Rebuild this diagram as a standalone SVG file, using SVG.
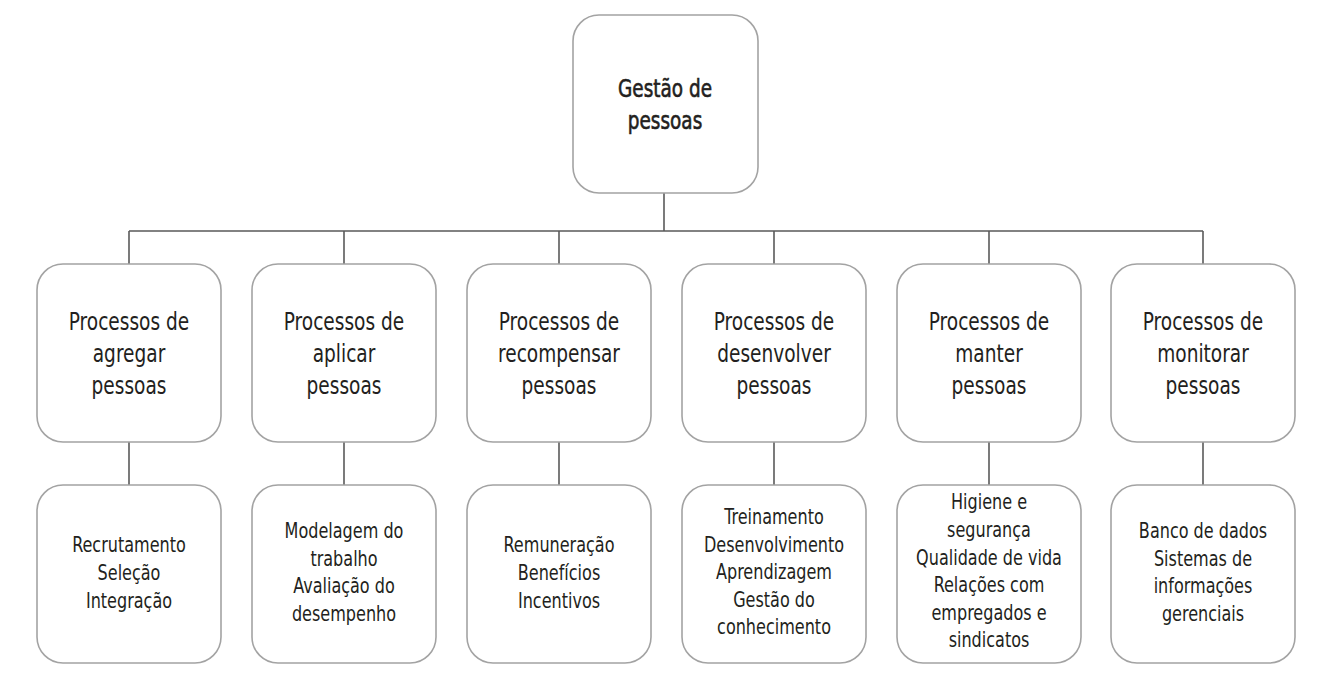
<svg xmlns="http://www.w3.org/2000/svg" width="1336" height="685" viewBox="0 0 1336 685">
<style>
.box{fill:#fff;stroke:#a3a3a3;stroke-width:1.6}
.ln{fill:none;stroke:#5a5a5a;stroke-width:1.6}
text{font-family:"DejaVu Sans Condensed","DejaVu Sans",sans-serif;fill:#231f20;text-anchor:middle}
.t{font-size:25px;stroke:#231f20;stroke-width:0.6}
.m{font-size:24px}
.b{font-size:21px}
</style>
<rect width="1336" height="685" fill="#fff"/>
<g id="connectors">
<path class="ln" d="M664,193V231M129,231H1203"/>
<path class="ln" d="M129,231V264M344,231V264M559,231V264M774,231V264M989,231V264M1203,231V264"/>
<path class="ln" d="M129,442V485M344,442V485M559,442V485M774,442V485M989,442V485M1203,442V485"/>
</g>
<g id="root"><rect class="box" x="573" y="15" width="185" height="178" rx="26"/>
<g transform="translate(665,0) scale(0.82,1)"><text class="t"><tspan x="0" y="97">Gestão de</tspan><tspan x="0" y="129">pessoas</tspan></text></g></g>

<g id="p1"><rect class="box" x="37" y="264" width="184" height="178" rx="26"/>
<g transform="translate(129,0) scale(0.86,1)"><text class="m"><tspan x="0" y="330">Processos de</tspan><tspan x="0" y="362">agregar</tspan><tspan x="0" y="394">pessoas</tspan></text></g></g>
<g id="p2"><rect class="box" x="252" y="264" width="184" height="178" rx="26"/>
<g transform="translate(344,0) scale(0.86,1)"><text class="m"><tspan x="0" y="330">Processos de</tspan><tspan x="0" y="362">aplicar</tspan><tspan x="0" y="394">pessoas</tspan></text></g></g>
<g id="p3"><rect class="box" x="467" y="264" width="184" height="178" rx="26"/>
<g transform="translate(559,0) scale(0.86,1)"><text class="m"><tspan x="0" y="330">Processos de</tspan><tspan x="0" y="362">recompensar</tspan><tspan x="0" y="394">pessoas</tspan></text></g></g>
<g id="p4"><rect class="box" x="682" y="264" width="184" height="178" rx="26"/>
<g transform="translate(774,0) scale(0.86,1)"><text class="m"><tspan x="0" y="330">Processos de</tspan><tspan x="0" y="362">desenvolver</tspan><tspan x="0" y="394">pessoas</tspan></text></g></g>
<g id="p5"><rect class="box" x="897" y="264" width="184" height="178" rx="26"/>
<g transform="translate(989,0) scale(0.86,1)"><text class="m"><tspan x="0" y="330">Processos de</tspan><tspan x="0" y="362">manter</tspan><tspan x="0" y="394">pessoas</tspan></text></g></g>
<g id="p6"><rect class="box" x="1111" y="264" width="184" height="178" rx="26"/>
<g transform="translate(1203,0) scale(0.86,1)"><text class="m"><tspan x="0" y="330">Processos de</tspan><tspan x="0" y="362">monitorar</tspan><tspan x="0" y="394">pessoas</tspan></text></g></g>

<g id="d1"><rect class="box" x="37" y="485" width="184" height="178" rx="26"/>
<g transform="translate(129,0) scale(0.85,1)"><text class="b"><tspan x="0" y="552">Recrutamento</tspan><tspan x="0" y="580">Seleção</tspan><tspan x="0" y="608">Integração</tspan></text></g></g>
<g id="d2"><rect class="box" x="252" y="485" width="184" height="178" rx="26"/>
<g transform="translate(344,0) scale(0.85,1)"><text class="b"><tspan x="0" y="538">Modelagem do</tspan><tspan x="0" y="566">trabalho</tspan><tspan x="0" y="593">Avaliação do</tspan><tspan x="0" y="621">desempenho</tspan></text></g></g>
<g id="d3"><rect class="box" x="467" y="485" width="184" height="178" rx="26"/>
<g transform="translate(559,0) scale(0.85,1)"><text class="b"><tspan x="0" y="552">Remuneração</tspan><tspan x="0" y="580">Benefícios</tspan><tspan x="0" y="608">Incentivos</tspan></text></g></g>
<g id="d4"><rect class="box" x="682" y="485" width="184" height="178" rx="26"/>
<g transform="translate(774,0) scale(0.85,1)"><text class="b"><tspan x="0" y="524">Treinamento</tspan><tspan x="0" y="552">Desenvolvimento</tspan><tspan x="0" y="579">Aprendizagem</tspan><tspan x="0" y="607">Gestão do</tspan><tspan x="0" y="634">conhecimento</tspan></text></g></g>
<g id="d5"><rect class="box" x="897" y="485" width="184" height="178" rx="26"/>
<g transform="translate(989,0) scale(0.85,1)"><text class="b"><tspan x="0" y="509">Higiene e</tspan><tspan x="0" y="537">segurança</tspan><tspan x="0" y="565">Qualidade de vida</tspan><tspan x="0" y="592">Relações com</tspan><tspan x="0" y="620">empregados e</tspan><tspan x="0" y="647">sindicatos</tspan></text></g></g>
<g id="d6"><rect class="box" x="1111" y="485" width="184" height="178" rx="26"/>
<g transform="translate(1203,0) scale(0.85,1)"><text class="b"><tspan x="0" y="538">Banco de dados</tspan><tspan x="0" y="566">Sistemas de</tspan><tspan x="0" y="593">informações</tspan><tspan x="0" y="621">gerenciais</tspan></text></g></g>
</svg>
